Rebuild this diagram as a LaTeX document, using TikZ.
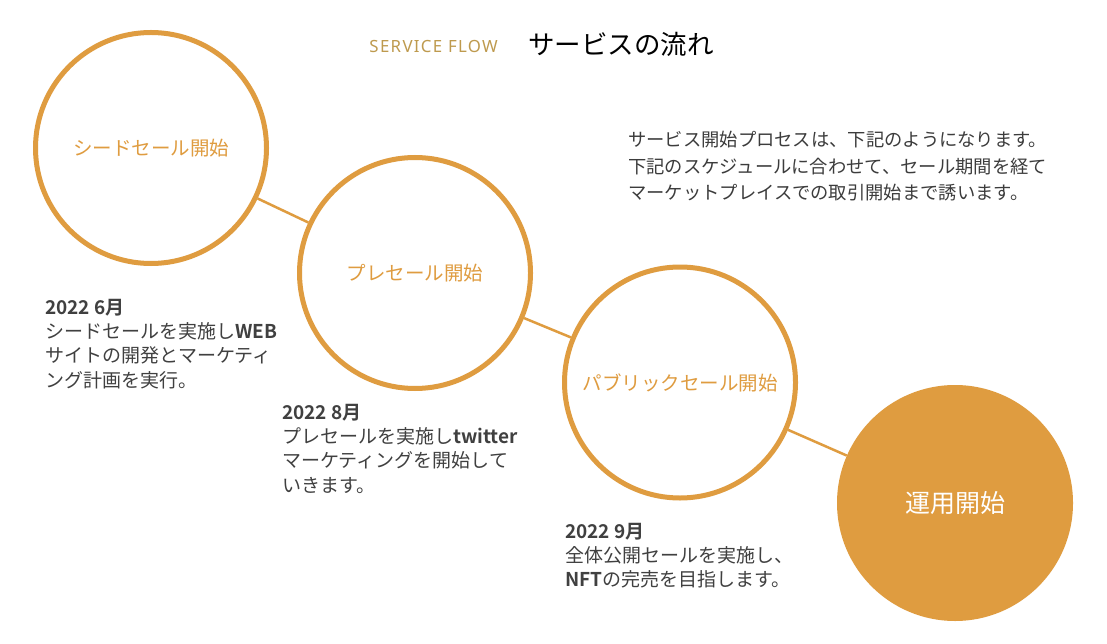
\documentclass[tikz,border=0pt]{standalone}
\usepackage{fontspec}
\setmainfont{Noto Sans CJK JP}[BoldFont={Noto Sans CJK JP Bold}]
\newfontfamily\titlelatin{Noto Sans}[LetterSpace=8]
\definecolor{flow}{RGB}{223,156,64}
\definecolor{gold}{RGB}{190,154,78}
\definecolor{body}{RGB}{64,64,64}
\definecolor{desc}{RGB}{60,60,60}
\begin{document}
\begin{tikzpicture}[x=1pt,y=-1pt,
  ring/.style={circle,draw=flow,line width=5pt,minimum size=231pt,inner sep=0pt,
    text=flow,font=\fontsize{19.5}{24}\selectfont},
  goal/.style={circle,fill=flow,minimum size=236pt,inner sep=0pt,
    text=white,font=\fontsize{25}{30}\selectfont},
  conn/.style={draw=flow,line width=2.5pt},
  note/.style={anchor=base west,align=left,inner sep=0pt,text=body,
    font=\fontsize{19}{24.3}\selectfont},
  lead/.style={anchor=base west,align=left,inner sep=0pt,text=desc,
    font=\fontsize{18.3}{26.5}\selectfont}]
\useasboundingbox[fill=white] (0,0) rectangle (1107,644);
\node[anchor=base east,inner sep=0pt,text=gold,font=\titlelatin\fontsize{16.8}{20}\selectfont] (en) at (498,53) {SERVICE FLOW};
\node[anchor=base west,inner sep=0pt,text=black,font=\fontsize{26.5}{30}\selectfont] (ja) at (528,55) {サービスの流れ};
\node[ring] (c1) at (151,148) {シードセール開始};
\node[ring] (c2) at (415,273) {プレセール開始};
\node[ring] (c3) at (680,382.5) {パブリックセール開始};
\node[goal] (c4) at (955,503) {運用開始};
\draw[conn] (c1) -- (c2);
\draw[conn] (c2) -- (c3);
\draw[conn] (c3) -- (c4);
\node[lead] (intro) at (628,200) {サービス開始プロセスは、下記のようになります。\\下記のスケジュールに合わせて、セール期間を経て\\マーケットプレイスでの取引開始まで誘います。};
\node[note] (n1) at (45,387) {\textbf{2022 6月}\\シードセールを実施し\textbf{WEB}\\サイトの開発とマーケティ\\ング計画を実行。};
\node[note] (n2) at (282,492) {\textbf{2022 8月}\\プレセールを実施し\textbf{twitter}\\マーケティングを開始して\\いきます。};
\node[note] (n3) at (565,586.6) {\textbf{2022 9月}\\全体公開セールを実施し、\\\textbf{NFT}の完売を目指します。};
\end{tikzpicture}
\end{document}
